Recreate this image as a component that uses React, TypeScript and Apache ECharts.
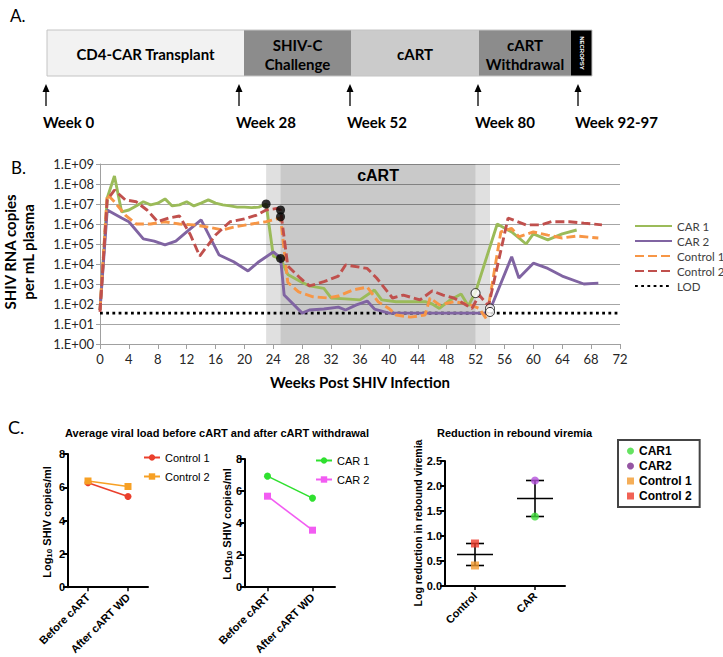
import React, { useEffect, useRef } from 'react';
import * as echarts from 'echarts';

// ---------------- Panel A: study timeline ----------------
const stageNames = ['CD4-CAR Transplant', 'SHIV-C\nChallenge', 'cART', 'cART\nWithdrawal', 'NECROPSY'];
const milestoneLabels = ['Week 0', 'Week 28', 'Week 52', 'Week 80', 'Week 92-97'];

// ---------------- Panel B: SHIV RNA copies per mL plasma [week, copies] ----------------
const car1Viremia: number[][] = [
  [0, 50], [1, 2e7], [2, 2.5e8], [3, 4e6], [4, 5e6], [5, 8e6], [6, 1.3e7], [7, 9e6], [8, 1.1e7],
  [9, 1.8e7], [10, 8e6], [11, 9e6], [12, 1.3e7], [13, 8e6], [14, 1.1e7], [15, 1.6e7], [16, 1.1e7],
  [17, 9e6], [18, 8e6], [19, 7e6], [20, 7e6], [21, 6.6e6], [22, 7e6], [23, 1e7], [24, 2.5e4],
  [25, 1.8e4], [26, 3e3], [28, 1.2e3], [29, 8e2], [31, 6e2], [32, 2e2], [34, 1.8e2], [36, 1.6e2],
  [38, 5e2], [39, 1.6e2], [41, 1.3e2], [45, 1.3e2], [46, 1e2], [47, 60], [48.5, 1.6e2], [50, 3.2e2],
  [51, 80], [52, 4e2], [55, 1e6], [57, 4e5], [59, 1e5], [60, 3.2e5], [62, 1.6e5], [64, 3.2e5], [66, 5e5],
];
const car2Viremia: number[][] = [
  [0, 50], [1, 5e6], [3, 2e6], [4, 1.3e6], [6, 1.8e5], [7.5, 1.4e5], [9, 9e4], [10.5, 1.4e5],
  [12, 4e5], [14, 1.6e6], [16.5, 2.8e4], [18.5, 1.3e4], [20.5, 4.5e3], [22, 1.3e4], [24, 4e4],
  [25, 2e4], [25.5, 2.8e2], [28, 35], [29, 50], [31, 56], [33, 70], [34, 50], [35.5, 90], [37, 1.4e2],
  [38, 56], [40, 35], [52, 35], [53.5, 35], [54, 50], [57, 2.3e4], [58, 2e3], [60, 1.1e4], [62, 6e3],
  [64, 2.5e3], [67, 1e3], [69, 1.1e3],
];
const control1Viremia: number[][] = [
  [0, 50], [1, 3e7], [2, 1.3e7], [3.5, 2.8e6], [5, 1e6], [7, 1e6], [9, 1.3e6], [11, 1e6], [13, 9e5],
  [15, 7e5], [17, 5e5], [18.5, 7e5], [21, 1e6], [23, 1.3e6], [25, 2e6], [26, 1.2e3], [27.5, 4e2],
  [29.5, 2.3e2], [31.5, 2e2], [33, 2.5e2], [35, 5e2], [37, 7e2], [38.5, 1.3e2], [40, 60], [41, 28],
  [43, 22], [45, 28], [45.7, 2e2], [47, 90], [49, 1.3e2], [51, 1e2], [52.5, 60], [53.5, 18],
  [55.5, 4e5], [57, 6e5], [58, 2.3e5], [60, 4e5], [62, 2.8e5], [64, 2e5], [66, 2.5e5], [69, 2e5],
];
const control2Viremia: number[][] = [
  [0, 40], [1, 1.6e7], [2, 5e7], [3.5, 1.6e7], [5, 1.3e7], [6.5, 5e6], [8, 1.3e6], [9.5, 2e6],
  [11, 2.5e6], [12.5, 3e5], [13.8, 2.5e4], [16, 2.8e5], [18, 1.3e6], [20, 1.8e6], [21.7, 2.8e6],
  [23, 5e6], [24.5, 6e6], [25, 5e6], [26, 8e3], [27.7, 2e3], [29, 8e2], [31, 1.3e3], [33, 2.5e3],
  [34, 9e3], [37, 6e3], [38.3, 2e3], [40.5, 2e2], [42, 2.8e2], [44.3, 1.6e2], [46, 4.5e2], [47.5, 2.8e2],
  [49, 2e2], [51.5, 60], [52.5, 2.8e2], [53.8, 80], [56.5, 2e6], [59, 9e5], [61, 9e5], [62.5, 1.3e6],
  [65, 1.3e6], [67, 1.1e6], [69.5, 9e5],
];
const lodCopies = 35;
const lodWeeks = [0, 72];
const cartStartPoints: number[][] = [[23, 1e7], [25, 5e6], [25, 2.3e6], [25, 1.9e4]];
const cartStopPoints: number[][] = [[52, 3.5e2], [54, 60], [54, 40]];
const cartTransition1 = [23, 25];
const cartWindow = [25, 52];
const cartTransition2 = [52, 54];

// ---------------- Panel C ----------------
const phaseCategories = ['Before cART', 'After cART WD'];
const control1Avg = [6.28, 5.45];
const control2Avg = [6.38, 6.05];
const car1Avg = [6.93, 5.56];
const car2Avg = [5.68, 3.56];
const groupCategories = ['Control', 'CAR'];
const reductionControl1 = 0.41;
const reductionControl2 = 0.85;
const reductionCar1 = 1.39;
const reductionCar2 = 2.11;

// ---------------- layout / style (not data) ----------------
const LATO = 'Lato';
const ARIAL = 'Liberation Sans';
const stageEdges = [47, 244, 351, 479, 571, 592];
const stageFills = ['#f2f2f2', '#8c8c8c', '#cbcbcb', '#8c8c8c', '#000000'];
const arrowXs = [46, 239, 350, 478, 578];
const barTop = 30;
const barBottom = 76;

const displayNames: Record<string, string> = {
  'b-car1': 'CAR 1', 'b-car2': 'CAR 2', 'b-c1': 'Control 1', 'b-c2': 'Control 2', 'b-lod': 'LOD',
  'ca-c1': 'Control 1', 'ca-c2': 'Control 2', 'cb-car1': 'CAR 1', 'cb-car2': 'CAR 2',
  'r-car1': 'CAR1', 'r-car2': 'CAR2', 'r-c1': 'Control 1', 'r-c2': 'Control 2',
};
const fmtLegend = (n: string) => displayNames[n] ?? n;

function buildGraphics() {
  const els: any[] = [];
  const txt = (x: number, y: number, text: string, font: string, extra: any = {}, rotation = 0) => ({
    type: 'text', x, y, rotation, silent: true,
    style: {
      text, font, fill: '#000', textAlign: 'center', textVerticalAlign: 'middle',
      align: 'center', verticalAlign: 'middle', ...extra,
    },
  });
  els.push(txt(10, 15, 'A.', `17px ${LATO}`, { textAlign: 'left', align: 'left' }));
  els.push(txt(11, 167, 'B.', `17px ${LATO}`, { textAlign: 'left', align: 'left' }));
  els.push(txt(8, 427, 'C.', `18px ${LATO}`, { textAlign: 'left', align: 'left' }));
  stageNames.forEach((name, i) => {
    const x0 = stageEdges[i];
    const x1 = stageEdges[i + 1];
    els.push({
      type: 'rect', silent: true,
      shape: { x: x0, y: barTop, width: x1 - x0, height: barBottom - barTop },
      style: { fill: stageFills[i] },
    });
    const cx = (x0 + x1) / 2;
    const cy = (barTop + barBottom) / 2;
    if (i === stageNames.length - 1) {
      els.push(txt(cx, cy, name, `bold 6px ${ARIAL}`, { fill: '#fff' }, -Math.PI / 2));
    } else {
      els.push(txt(cx, cy + 1, name, `bold 15px ${LATO}`, { lineHeight: 19 }));
    }
  });
  els.push({
    type: 'rect', silent: true,
    shape: { x: stageEdges[0], y: barTop, width: stageEdges[stageEdges.length - 1] - stageEdges[0], height: barBottom - barTop },
    style: { fill: 'none', stroke: '#c4c4c4', lineWidth: 1 },
  });
  milestoneLabels.forEach((label, i) => {
    const x = arrowXs[i];
    els.push({ type: 'line', silent: true, shape: { x1: x, y1: 106, x2: x, y2: 90 }, style: { stroke: '#000', lineWidth: 1.3 } });
    els.push({ type: 'polygon', silent: true, shape: { points: [[x - 3.5, 92], [x + 3.5, 92], [x, 84]] }, style: { fill: '#000' } });
    els.push(txt(x - 3, 122, label, `bold 15px ${LATO}`, { textAlign: 'left', align: 'left' }));
  });
  // axis titles
  els.push(txt(19, 252, 'SHIV RNA copies\nper mL plasma', `bold 15px ${LATO}`, { lineHeight: 18 }, Math.PI / 2));
  const logRich = {
    a: { fontSize: 11, fontWeight: 'bold', fontFamily: ARIAL, fill: '#000', lineHeight: 13 },
    s: { fontSize: 8, fontWeight: 'bold', fontFamily: ARIAL, fill: '#000', lineHeight: 13, verticalAlign: 'bottom', padding: [5, 0, 0, 0] },
  };
  els.push(txt(47, 522, '{a|Log}{s|10}{a| SHIV copies/ml}', `bold 11px ${ARIAL}`, { rich: logRich }, Math.PI / 2));
  els.push(txt(227, 524, '{a|Log}{s|10}{a| SHIV copies/ml}', `bold 11px ${ARIAL}`, { rich: logRich }, Math.PI / 2));
  els.push(txt(418, 523, 'Log reduction in rebound viremia', `bold 10.5px ${ARIAL}`, {}, Math.PI / 2));
  return els;
}

function buildOption(): any {
  const mean = (a: number[]) => a.reduce((s, v) => s + v, 0) / a.length;
  const controlGroup = [reductionControl1, reductionControl2];
  const carGroup = [reductionCar1, reductionCar2];
  const summary = [
    [0, mean(controlGroup), Math.min(...controlGroup), Math.max(...controlGroup)],
    [1, mean(carGroup), Math.min(...carGroup), Math.max(...carGroup)],
  ];

  const cAxisY = (gridIndex: number, max: number, interval: number, decimals: number) => ({
    type: 'value', gridIndex, min: 0, max, interval,
    axisLine: { show: true, lineStyle: { color: '#000', width: 2 } },
    axisTick: { show: true, length: 5, lineStyle: { color: '#000', width: 2 } },
    axisLabel: {
      color: '#000', fontWeight: 'bold', fontSize: 11, fontFamily: ARIAL, margin: 3,
      formatter: (v: number) => v.toFixed(decimals),
    },
    splitLine: { show: false },
  });
  const cAxisX = (gridIndex: number, data: string[]) => ({
    type: 'category', gridIndex, data, boundaryGap: true,
    axisLine: { show: true, lineStyle: { color: '#000', width: 2 } },
    axisTick: { show: true, alignWithLabel: true, length: 4, lineStyle: { color: '#000', width: 1.5 } },
    axisLabel: { rotate: 45, color: '#000', fontWeight: 'bold', fontSize: 11, fontFamily: ARIAL, margin: 8, interval: 0 },
    splitLine: { show: false },
  });
  const bLine = (name: string, data: number[][], color: string, dashed: boolean) => ({
    name, type: 'line', xAxisIndex: 0, yAxisIndex: 0, data, symbol: 'none', z: 4,
    lineStyle: { color, width: 2.9, type: dashed ? [9, 4] : 'solid' },
    itemStyle: { color },
  });
  const cLine = (name: string, axis: number, data: number[], color: string, symbol: string) => ({
    name, type: 'line', xAxisIndex: axis, yAxisIndex: axis, data, symbol, symbolSize: 7,
    lineStyle: { color, width: 1.6 }, itemStyle: { color },
  });
  const rPoint = (name: string, cat: number, v: number, color: string, symbol: string) => ({
    name, type: 'scatter', xAxisIndex: 3, yAxisIndex: 3, data: [[cat, v]], symbol, symbolSize: 8, z: 6,
    itemStyle: { color },
  });
  const hiddenMarker = { color: 'rgba(0,0,0,0)', borderColor: 'rgba(0,0,0,0)', borderWidth: 0 };

  return {
    animation: false,
    backgroundColor: '#fff',
    textStyle: { fontFamily: LATO },
    title: [
      {
        text: 'Average viral load before cART and after cART withdrawal', left: 65, top: 427, padding: 0,
        textStyle: { fontSize: 11, fontWeight: 'bold', fontFamily: ARIAL, color: '#000' },
      },
      {
        text: 'Reduction in rebound viremia', left: 437, top: 427, padding: 0,
        textStyle: { fontSize: 11, fontWeight: 'bold', fontFamily: ARIAL, color: '#000' },
      },
    ],
    legend: [
      {
        left: 634, top: 220, orient: 'vertical', itemWidth: 37, itemHeight: 14, itemGap: 3,
        selectedMode: false, formatter: fmtLegend, padding: 0,
        itemStyle: hiddenMarker,
        data: ['b-car1', 'b-car2', 'b-c1', 'b-c2', 'b-lod'],
        textStyle: { fontFamily: LATO, fontSize: 11.5, color: '#404040' },
      },
      {
        left: 143, top: 452, orient: 'vertical', itemWidth: 16, itemHeight: 8, itemGap: 8,
        selectedMode: false, formatter: fmtLegend, padding: 0,
        data: ['ca-c1', 'ca-c2'],
        textStyle: { fontFamily: ARIAL, fontSize: 11, color: '#000' },
      },
      {
        left: 315, top: 455, orient: 'vertical', itemWidth: 16, itemHeight: 8, itemGap: 8,
        selectedMode: false, formatter: fmtLegend, padding: 0,
        data: ['cb-car1', 'cb-car2'],
        textStyle: { fontFamily: ARIAL, fontSize: 11, color: '#000' },
      },
      {
        left: 618, top: 440, orient: 'vertical', itemWidth: 7, itemHeight: 7, itemGap: 3,
        selectedMode: false, formatter: fmtLegend, padding: [5, 8, 5, 9],
        borderColor: '#444', borderWidth: 2,
        data: [
          { name: 'r-car1', icon: 'circle' },
          { name: 'r-car2', icon: 'circle', itemStyle: { color: '#7b2a8c' } },
          { name: 'r-c1', icon: 'rect' },
          { name: 'r-c2', icon: 'rect' },
        ],
        textStyle: { fontFamily: ARIAL, fontSize: 12, fontWeight: 'bold', color: '#000' },
      },
    ],
    grid: [
      { left: 100, top: 164, width: 520, height: 180 },
      { left: 68, top: 454, width: 80, height: 135 },
      { left: 245, top: 459, width: 90, height: 132 },
      { left: 445, top: 461, width: 120, height: 125 },
    ],
    xAxis: [
      {
        type: 'value', gridIndex: 0, min: 0, max: 72, interval: 4,
        name: 'Weeks Post SHIV Infection', nameLocation: 'middle', nameGap: 30,
        nameTextStyle: { fontFamily: LATO, fontWeight: 'bold', fontSize: 15, color: '#000' },
        axisLine: { show: true, onZero: false, lineStyle: { color: '#a0a0a0', width: 1 } },
        axisTick: { show: true, length: 5, lineStyle: { color: '#a0a0a0' } },
        axisLabel: { fontFamily: LATO, fontSize: 13, color: '#262626', margin: 8 },
        splitLine: { show: false },
      },
      cAxisX(1, phaseCategories),
      cAxisX(2, phaseCategories),
      cAxisX(3, groupCategories),
    ],
    yAxis: [
      {
        type: 'log', gridIndex: 0, logBase: 10, min: 1, max: 1e9, splitNumber: 9,
        axisLine: { show: true, lineStyle: { color: '#a0a0a0', width: 1 } },
        axisTick: { show: true, length: 4, lineStyle: { color: '#a0a0a0' } },
        axisLabel: {
          fontFamily: LATO, fontSize: 13, color: '#262626', margin: 6,
          formatter: (v: number) => {
            const e = Math.round(Math.log10(v));
            return '1.E+' + (e < 10 ? '0' : '') + e;
          },
        },
        splitLine: { show: true, lineStyle: { color: '#a6a6a6', width: 1 } },
      },
      cAxisY(1, 8, 2, 0),
      cAxisY(2, 8, 2, 0),
      cAxisY(3, 2.5, 0.5, 1),
    ],
    series: [
      {
        name: 'b-lod', type: 'line', xAxisIndex: 0, yAxisIndex: 0, symbol: 'none', z: 3,
        data: lodWeeks.map((w) => [w, lodCopies]),
        lineStyle: { color: '#000', width: 2.8, type: [2.8, 3.4] },
        itemStyle: { color: '#000' },
        markArea: {
          silent: true,
          data: [
            [{ xAxis: cartTransition1[0], itemStyle: { color: 'rgba(0,0,0,0.12)' } }, { xAxis: cartTransition1[1] }],
            [
              {
                name: 'cART', xAxis: cartWindow[0], itemStyle: { color: 'rgba(0,0,0,0.21)' },
                label: {
                  show: true, position: 'insideTop', distance: 3, color: '#000',
                  fontWeight: 'bold', fontSize: 16, fontFamily: ARIAL,
                },
              },
              { xAxis: cartWindow[1] },
            ],
            [{ xAxis: cartTransition2[0], itemStyle: { color: 'rgba(0,0,0,0.12)' } }, { xAxis: cartTransition2[1] }],
          ],
        },
      },
      bLine('b-car1', car1Viremia, '#9bbb59', false),
      bLine('b-car2', car2Viremia, '#8064a2', false),
      bLine('b-c1', control1Viremia, '#f79646', true),
      bLine('b-c2', control2Viremia, '#c0504d', true),
      {
        name: 'cART start', type: 'scatter', xAxisIndex: 0, yAxisIndex: 0, data: cartStartPoints,
        symbolSize: 9, z: 8, itemStyle: { color: '#000' },
      },
      {
        name: 'cART stop', type: 'scatter', xAxisIndex: 0, yAxisIndex: 0, data: cartStopPoints,
        symbolSize: 9, z: 8, itemStyle: { color: '#fff', borderColor: '#000', borderWidth: 1 },
      },
      cLine('ca-c1', 1, control1Avg, '#ea3f2c', 'circle'),
      cLine('ca-c2', 1, control2Avg, '#f7a024', 'rect'),
      cLine('cb-car1', 2, car1Avg, '#2fe02f', 'circle'),
      cLine('cb-car2', 2, car2Avg, '#f25cf2', 'rect'),
      {
        name: 'range', type: 'custom', xAxisIndex: 3, yAxisIndex: 3, data: summary, z: 4,
        renderItem: (_p: any, api: any) => {
          const cat = api.value(0);
          const pm = api.coord([cat, api.value(1)]);
          const pl = api.coord([cat, api.value(2)]);
          const ph = api.coord([cat, api.value(3)]);
          const x = pm[0];
          const st = { stroke: '#000', lineWidth: 1.6 };
          return {
            type: 'group',
            children: [
              { type: 'line', shape: { x1: x, y1: pl[1], x2: x, y2: ph[1] }, style: st },
              { type: 'line', shape: { x1: x - 9, y1: pl[1], x2: x + 9, y2: pl[1] }, style: st },
              { type: 'line', shape: { x1: x - 9, y1: ph[1], x2: x + 9, y2: ph[1] }, style: st },
              { type: 'line', shape: { x1: x - 18, y1: pm[1], x2: x + 18, y2: pm[1] }, style: st },
            ],
          };
        },
      },
      rPoint('r-car1', 1, reductionCar1, '#3fdc3a', 'circle'),
      rPoint('r-car2', 1, reductionCar2, '#b450dc', 'circle'),
      rPoint('r-c1', 0, reductionControl1, '#f29a2e', 'rect'),
      rPoint('r-c2', 0, reductionControl2, '#ee3b2b', 'rect'),
    ],
    graphic: { elements: buildGraphics() },
  };
}

export default function App() {
  const ref = useRef<HTMLDivElement>(null);
  useEffect(() => {
    if (!ref.current) return;
    const chart = echarts.init(ref.current, null, { renderer: 'svg' });
    chart.setOption(buildOption());
    return () => chart.dispose();
  }, []);
  return (
    <div
      ref={ref}
      style={{ position: 'absolute', left: 0, top: 0, width: 723, height: 657, background: '#fff' }}
    />
  );
}
